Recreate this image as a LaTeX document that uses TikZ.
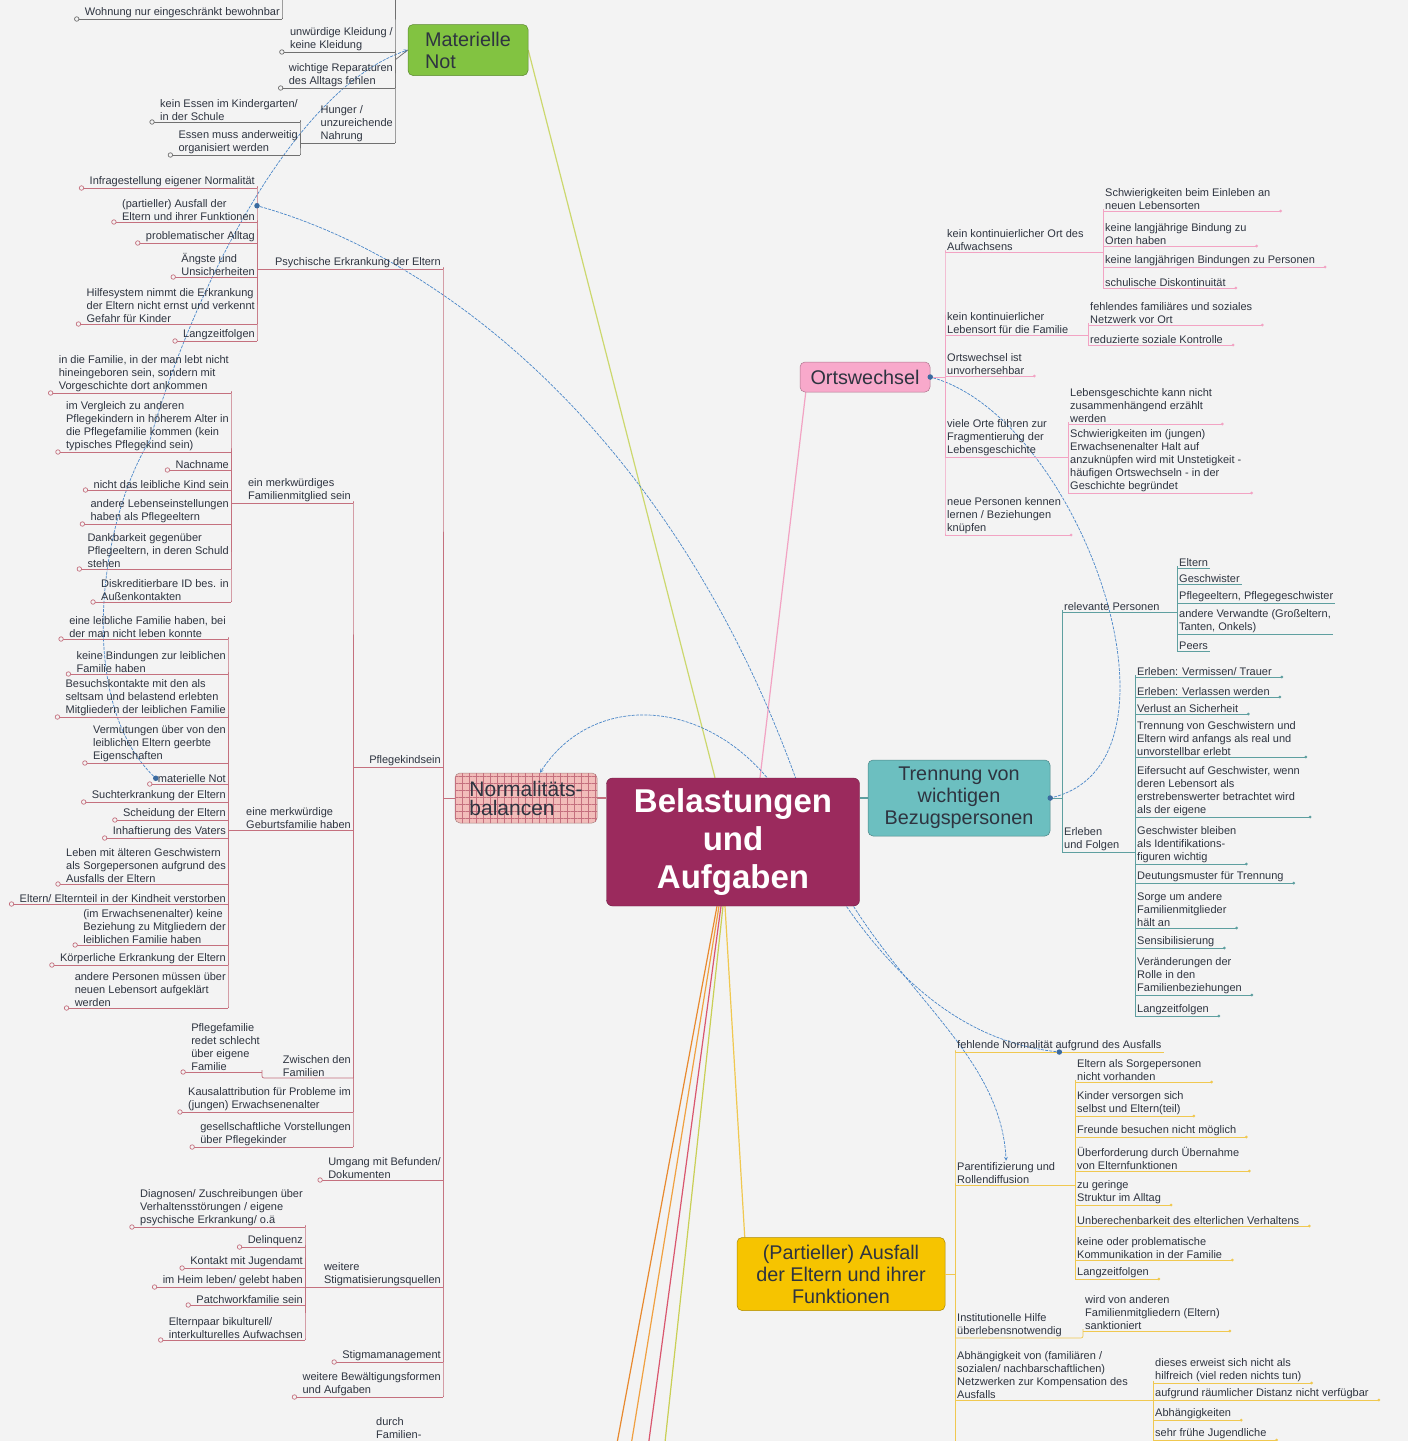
\documentclass[tikz,border=0pt]{standalone}
\usepackage{fontspec}
\setmainfont{Liberation Sans}
\usetikzlibrary{positioning,backgrounds,patterns.meta}

\definecolor{bgc}{HTML}{F3F3F3}
\definecolor{txt}{HTML}{2E3440}
\definecolor{cMain}{HTML}{9B2A5D}
\definecolor{cMat}{HTML}{82C341}
\definecolor{cOrt}{HTML}{F8A9CB}
\definecolor{cTr}{HTML}{6CBFC0}
\definecolor{cAus}{HTML}{F6C400}
\definecolor{cNorm}{HTML}{F2BDBA}
\definecolor{cMatL}{HTML}{CCD86E}
\definecolor{lnN}{HTML}{C4707E}
\definecolor{lnM}{HTML}{707070}
\definecolor{lnO}{HTML}{F2A3C3}
\definecolor{lnT}{HTML}{5E9FA0}
\definecolor{lnA}{HTML}{F0C850}
\definecolor{relc}{HTML}{4A86C8}

\tikzset{
  lbl/.style={font=\fontsize{11}{12.8}\selectfont, text=txt, align=left, inner xsep=2pt, inner ysep=1.5pt},
  ll/.style={lbl, anchor=south east},
  rl/.style={lbl, anchor=south west},
  br/.style={line width=0.7pt, rounded corners=2pt},
  mk/.style={circle, draw, fill=bgc, inner sep=0pt, minimum size=4.5pt},
  mkr/.style={circle, fill, inner sep=0pt, minimum size=3pt},
  topic/.style={rounded corners=5pt, fill=#1, draw=#1!70!black, line width=0.5pt, text=txt, font=\fontsize{19.8}{22}\selectfont},
  rel/.style={relc, line width=0.7pt, dash pattern=on 3pt off 1.2pt},
  reldot/.style={circle, fill=relc!80!black, inner sep=0pt, minimum size=5.5pt},
  mainln/.style={line width=1.2pt}
}

\begin{document}
\begin{tikzpicture}[x=1pt, y=-1pt, >=stealth]
\useasboundingbox (0,0) rectangle (1408,1441);

% main topics
\node[rounded corners=6pt, fill=cMain, draw=cMain!70!black, text=white, font=\bfseries\fontsize{33}{38}\selectfont, align=center, minimum width=253, minimum height=128] (bela) at (733,842) {Belastungen\\und\\Aufgaben};
\node[topic=cMat, minimum width=120, minimum height=51, align=left] (mat) at (468,50) {Materielle\\Not};
\node[topic=cOrt, minimum width=130, minimum height=30, inner ysep=2pt] (ort) at (865,377) {Ortswechsel};
\node[topic=cTr, minimum width=182, minimum height=76, align=center] (tr) at (959,798) {Trennung von\\wichtigen\\Bezugspersonen};
\node[topic=cAus, minimum width=208, minimum height=73, align=center, inner ysep=2pt] (aus) at (841,1274) {(Partieller) Ausfall\\der Eltern und ihrer\\Funktionen};
\node[topic=cNorm, minimum width=142, minimum height=50, align=left, font=\fontsize{21}{19}\selectfont, postaction={pattern={Hatch[angle=0,distance=7pt,line width=0.5pt]}, pattern color=lnN}] (norm) at (526,798) {Normalitäts-\\balancen};

% Materielle Not
\coordinate (matB) at (395,60);
\coordinate (matTop) at (395,-20);
\node[ll] (mat1) at (395,52) {unwürdige Kleidung /\\keine Kleidung};
\node[ll] (mat2) at (395,88) {wichtige Reparaturen\\des Alltags fehlen};
\node[ll] (hung) at (395,143) {Hunger /\\unzureichende\\Nahrung};
\coordinate (hungB) at (300,143);
\node[ll] (hung1) at (300,122) {kein Essen im Kindergarten/\\in der Schule};
\node[ll] (hung2) at (300,155) {Essen muss anderweitig\\organisiert werden};
\coordinate (wohnTop) at (282,-20);
\node[ll] (wohn) at (282,19) {Wohnung nur eingeschränkt bewohnbar};

\draw[br, lnM] (mat.west) -- (matB);
\draw[br, lnM] (matTop) -- (matB) |- (hung.south east);
\foreach \n in {mat1,mat2} \draw[br, lnM] (matB) |- (\n.south east);
\draw[br, lnM] (hung.south east) -- (hungB);
\foreach \n in {hung1,hung2} \draw[br, lnM] (hungB) |- (\n.south east);
\draw[br, lnM] (wohnTop) |- (wohn.south east);
\foreach \n in {mat1,mat2,hung1,hung2,wohn}
  \draw[br, lnM] (\n.south east) -- ([xshift=-6]\n.south west) node[mk] {};

% Normalitaetsbalancen
\coordinate (normB) at (443,798);
\node[ll] (psych) at (443,269) {Psychische Erkrankung der Eltern};
\coordinate (psychB) at (257,269);
\node[ll] (ps1) at (257,188) {Infragestellung eigener Normalität};
\node[ll] (ps2) at (257,222) {(partieller) Ausfall der\\Eltern und ihrer Funktionen};
\node[ll] (ps3) at (257,243) {problematischer Alltag};
\node[ll] (ps4) at (257,277) {Ängste und\\Unsicherheiten};
\node[ll] (ps5) at (257,324) {Hilfesystem nimmt die Erkrankung\\der Eltern nicht ernst und verkennt\\Gefahr für Kinder};
\node[ll] (ps6) at (257,341) {Langzeitfolgen};

\node[ll] (pfk) at (443,767) {Pflegekindsein};
\coordinate (pfkB) at (353,767);
\node[ll] (merk) at (353,503) {ein merkwürdiges\\Familienmitglied sein};
\coordinate (merkB) at (231,503);
\node[ll] (me1) at (231,393) {in die Familie, in der man lebt nicht\\hineingeboren sein, sondern mit\\Vorgeschichte dort ankommen};
\node[ll] (me2) at (231,452) {im Vergleich zu anderen\\Pflegekindern in höherem Alter in\\die Pflegefamilie kommen (kein\\typisches Pflegekind sein)};
\node[ll] (me3) at (231,470) {Nachname};
\node[ll] (me4) at (231,490) {nicht das leibliche Kind sein};
\node[ll] (me5) at (231,524) {andere Lebenseinstellungen\\haben als Pflegeeltern};
\node[ll] (me6) at (231,569) {Dankbarkeit gegenüber\\Pflegeeltern, in deren Schuld\\stehen};
\node[ll] (me7) at (231,602) {Diskreditierbare ID bes. in\\Außenkontakten};

\node[ll] (geb) at (353,830) {eine merkwürdige\\Geburtsfamilie haben};
\coordinate (gebB) at (228,830);
\node[ll] (ge1) at (228,639) {eine leibliche Familie haben, bei\\der man nicht leben konnte};
\node[ll] (ge2) at (228,674) {keine Bindungen zur leiblichen\\Familie haben};
\node[ll] (ge3) at (228,717) {Besuchskontakte mit den als\\seltsam und belastend erlebten\\Mitgliedern der leiblichen Familie};
\node[ll] (ge4) at (228,763) {Vermutungen über von den\\leiblichen Eltern geerbte\\Eigenschaften};
\node[ll] (ge5) at (228,784) {materielle Not};
\node[ll] (ge6) at (228,802) {Suchterkrankung der Eltern};
\node[ll] (ge7) at (228,820) {Scheidung der Eltern};
\node[ll] (ge8) at (228,838) {Inhaftierung des Vaters};
\node[ll] (ge9) at (228,884) {Leben mit älteren Geschwistern\\als Sorgepersonen aufgrund des\\Ausfalls der Eltern};
\node[ll] (ge10) at (228,904) {Eltern/ Elternteil in der Kindheit verstorben};
\node[ll] (ge11) at (228,945) {(im Erwachsenenalter) keine\\Beziehung zu Mitgliedern der\\leiblichen Familie haben};
\node[ll] (ge12) at (228,965) {Körperliche Erkrankung der Eltern};
\node[ll] (ge13) at (228,1008) {andere Personen müssen über\\neuen Lebensort aufgeklärt\\werden};

\node[ll] (zw) at (353,1078) {Zwischen den\\Familien};
\coordinate (zwB) at (262,1078);
\node[ll] (zw1) at (262,1072) {Pflegefamilie\\redet schlecht\\über eigene\\Familie};
\node[ll] (kaus) at (353,1112) {Kausalattribution für Probleme im\\(jungen) Erwachsenenalter};
\node[ll] (ges) at (353,1147) {gesellschaftliche Vorstellungen\\über Pflegekinder};

\node[ll] (umg) at (443,1180) {Umgang mit Befunden/\\Dokumenten};
\node[ll] (wsq) at (443,1287) {weitere\\Stigmatisierungsquellen};
\coordinate (wsqB) at (305,1287);
\node[ll] (ws1) at (305,1227) {Diagnosen/ Zuschreibungen über\\Verhaltensstörungen / eigene\\psychische Erkrankung/ o.ä};
\node[ll] (ws2) at (305,1247) {Delinquenz};
\node[ll] (ws3) at (305,1268) {Kontakt mit Jugendamt};
\node[ll] (ws4) at (305,1287) {im Heim leben/ gelebt haben};
\node[ll] (ws5) at (305,1305) {Patchworkfamilie sein};
\node[ll] (ws6) at (305,1340) {Elternpaar bikulturell/\\interkulturelles Aufwachsen};
\node[ll] (stm) at (443,1362) {Stigmamanagement};
\node[ll] (wbf) at (443,1397) {weitere Bewältigungsformen\\und Aufgaben};
\node[lbl, anchor=north west] (durch) at (374,1416) {durch\\Familien-};

\draw[br, lnN] (norm.west) -- (normB);
\foreach \n in {psych,pfk,umg,wsq,stm,wbf} \draw[br, lnN] (normB) |- (\n.south east);
\draw[br, lnN] (psych.south east) -- (psychB);
\foreach \i in {1,...,6} \draw[br, lnN] (psychB) |- (ps\i.south east);
\draw[br, lnN] (pfk.south east) -- (pfkB);
\foreach \n in {merk,geb,zw,kaus,ges} \draw[br, lnN] (pfkB) |- (\n.south east);
\draw[br, lnN] (merk.south east) -- (merkB);
\foreach \i in {1,...,7} \draw[br, lnN] (merkB) |- (me\i.south east);
\draw[br, lnN] (geb.south east) -- (gebB);
\foreach \i in {1,...,13} \draw[br, lnN] (gebB) |- (ge\i.south east);
\draw[br, lnN] (zw.south east) -- (zwB) |- (zw1.south east);
\draw[br, lnN] (wsq.south east) -- (wsqB);
\foreach \i in {1,...,6} \draw[br, lnN] (wsqB) |- (ws\i.south east);
\foreach \n in {ps1,ps2,ps3,ps4,ps5,ps6,me1,me2,me3,me4,me5,me6,me7,ge1,ge2,ge3,ge4,ge5,ge6,ge7,ge8,ge9,ge10,ge11,ge12,ge13,zw1,kaus,ges,umg,ws1,ws2,ws3,ws4,ws5,ws6,stm,wbf}
  \draw[br, lnN] (\n.south east) -- ([xshift=-6]\n.south west) node[mk] {};

% Ortswechsel
\coordinate (ortB) at (945,377);
\node[rl] (oA) at (945,252) {kein kontinuierlicher Ort des\\Aufwachsens};
\coordinate (oAB) at (1103,252);
\node[rl] (oA1) at (1103,211) {Schwierigkeiten beim Einleben an\\neuen Lebensorten};
\node[rl] (oA2) at (1103,246) {keine langjährige Bindung zu\\Orten haben};
\node[rl] (oA3) at (1103,267) {keine langjährigen Bindungen zu Personen};
\node[rl] (oA4) at (1103,288) {schulische Diskontinuität};
\node[rl] (oB) at (945,335) {kein kontinuierlicher\\Lebensort für die Familie};
\coordinate (oBB) at (1088,335);
\node[rl] (oB1) at (1088,325) {fehlendes familiäres und soziales\\Netzwerk vor Ort};
\node[rl] (oB2) at (1088,345) {reduzierte soziale Kontrolle};
\node[rl] (oC) at (945,376) {Ortswechsel ist\\unvorhersehbar};
\node[rl] (oD) at (945,457) {viele Orte führen zur\\Fragmentierung der\\Lebensgeschichte};
\coordinate (oDB) at (1068,457);
\node[rl] (oD1) at (1068,424) {Lebensgeschichte kann nicht\\zusammenhängend erzählt\\werden};
\node[rl] (oD2) at (1068,493) {Schwierigkeiten im (jungen)\\Erwachsenenalter Halt auf\\anzuknüpfen wird mit Unstetigkeit -\\häufigen Ortswechseln - in der\\Geschichte begründet};
\node[rl] (oE) at (945,535) {neue Personen kennen\\lernen / Beziehungen\\knüpfen};

\draw[br, lnO] (ort.east) -- (ortB);
\foreach \n in {oA,oB,oC,oD,oE} \draw[br, lnO] (ortB) |- (\n.south west);
\draw[br, lnO] (oA.south west) -- (oAB);
\foreach \i in {1,...,4} \draw[br, lnO] (oAB) |- (oA\i.south west);
\draw[br, lnO] (oB.south west) -- (oBB);
\foreach \i in {1,2} \draw[br, lnO] (oBB) |- (oB\i.south west);
\draw[br, lnO] (oD.south west) -- (oDB);
\foreach \i in {1,2} \draw[br, lnO] (oDB) |- (oD\i.south west);
\foreach \n in {oA1,oA2,oA3,oA4,oB1,oB2,oC,oD1,oD2,oE}
  \draw[br, lnO] (\n.south west) -- ([xshift=8]\n.south east) node[mkr] {};

% Trennung
\coordinate (trB) at (1062,798);
\node[rl] (tA) at (1062,612) {relevante Personen};
\coordinate (tAB) at (1177,612);
\node[rl] (tA1) at (1177,568) {Eltern};
\node[rl] (tA2) at (1177,584) {Geschwister};
\node[rl] (tA3) at (1177,603) {Pflegeeltern, Pflegegeschwister};
\node[rl] (tA4) at (1177,634) {andere Verwandte (Großeltern,\\Tanten, Onkels)};
\node[rl] (tA5) at (1177,651) {Peers};
\node[rl] (tB) at (1062,852) {Erleben\\und Folgen};
\coordinate (tBB) at (1135,852);
\node[rl] (tB1) at (1135,677) {Erleben: Vermissen/ Trauer};
\node[rl] (tB2) at (1135,697) {Erleben: Verlassen werden};
\node[rl] (tB3) at (1135,714) {Verlust an Sicherheit};
\node[rl] (tB4) at (1135,757) {Trennung von Geschwistern und\\Eltern wird anfangs als real und\\unvorstellbar erlebt};
\node[rl] (tB5) at (1135,817) {Eifersucht auf Geschwister, wenn\\deren Lebensort als\\erstrebenswerter betrachtet wird\\als der eigene};
\node[rl] (tB6) at (1135,864) {Geschwister bleiben\\als Identifikations-\\figuren wichtig};
\node[rl] (tB7) at (1135,883) {Deutungsmuster für Trennung};
\node[rl] (tB8) at (1135,928) {Sorge um andere\\Familienmitglieder\\hält an};
\node[rl] (tB9) at (1135,948) {Sensibilisierung};
\node[rl] (tB10) at (1135,995) {Veränderungen der\\Rolle in den\\Familienbeziehungen};
\node[rl] (tB11) at (1135,1016) {Langzeitfolgen};

\draw[br, lnT] (tr.east) -- (trB);
\foreach \n in {tA,tB} \draw[br, lnT] (trB) |- (\n.south west);
\draw[br, lnT] (tA.south west) -- (tAB);
\foreach \i in {1,...,5} \draw[br, lnT] (tAB) |- (tA\i.south west);
\draw[br, lnT] (tB.south west) -- (tBB);
\foreach \i in {1,...,11} \draw[br, lnT] (tBB) |- (tB\i.south west);
\foreach \i in {1,...,5} \draw[br, lnT] (tA\i.south west) -- (tA\i.south east);
\foreach \i in {1,...,11} \draw[br, lnT] (tB\i.south west) -- ([xshift=8]tB\i.south east) node[mkr] {};

% Ausfall
\coordinate (ausB) at (955,1274);
\coordinate (ausBot) at (955,1470);
\node[rl] (aA) at (955,1052) {fehlende Normalität aufgrund des Ausfalls};
\node[rl] (aB) at (955,1185) {Parentifizierung und\\Rollendiffusion};
\coordinate (aBB) at (1075,1185);
\node[rl] (aB1) at (1075,1082) {Eltern als Sorgepersonen\\nicht vorhanden};
\node[rl] (aB2) at (1075,1116) {Kinder versorgen sich\\selbst und Eltern(teil)};
\node[rl] (aB3) at (1075,1137) {Freunde besuchen nicht möglich};
\node[rl] (aB4) at (1075,1171) {Überforderung durch Übernahme\\von Elternfunktionen};
\node[rl] (aB5) at (1075,1205) {zu geringe\\Struktur im Alltag};
\node[rl] (aB6) at (1075,1226) {Unberechenbarkeit des elterlichen Verhaltens};
\node[rl] (aB7) at (1075,1260) {keine oder problematische\\Kommunikation in der Familie};
\node[rl] (aB8) at (1075,1279) {Langzeitfolgen};
\node[rl] (aC) at (955,1338) {Institutionelle Hilfe\\überlebensnotwendig};
\coordinate (aCB) at (1083,1338);
\node[rl] (aC1) at (1083,1331) {wird von anderen\\Familienmitgliedern (Eltern)\\sanktioniert};
\node[rl] (aD) at (955,1400) {Abhängigkeit von (familiären /\\sozialen/ nachbarschaftlichen)\\Netzwerken zur Kompensation des\\Ausfalls};
\coordinate (aDB) at (1153,1400);
\node[rl] (aD1) at (1153,1383) {dieses erweist sich nicht als\\hilfreich (viel reden nichts tun)};
\node[rl] (aD2) at (1153,1400) {aufgrund räumlicher Distanz nicht verfügbar};
\node[rl] (aD3) at (1153,1420) {Abhängigkeiten};
\node[rl] (aD4) at (1153,1440) {sehr frühe Jugendliche};

\draw[br, lnA] (aus.east) -- (ausB);
\draw[br, lnA] (ausBot) -- (ausB) |- (aA.south west);
\foreach \n in {aB,aC,aD} \draw[br, lnA] (ausB) |- (\n.south west);
\draw[br, lnA] (aA.south west) -- (aA.south east);
\draw[br, lnA] (aB.south west) -- (aBB);
\foreach \i in {1,...,8} \draw[br, lnA] (aBB) |- (aB\i.south west);
\draw[br, lnA] (aC.south west) -- (aCB) |- (aC1.south west);
\draw[br, lnA] (aD.south west) -- (aDB);
\foreach \i in {1,...,4} \draw[br, lnA] (aDB) |- (aD\i.south west);
\foreach \n in {aB1,aB2,aB3,aB4,aB5,aB6,aB7,aB8,aC1,aD1,aD2,aD3,aD4}
  \draw[br, lnA] (\n.south west) -- ([xshift=8]\n.south east) node[mkr] {};

% relations
\node[reldot] (rdM) at (ge5.west) {};
\node[reldot] (rdA) at ([yshift=-8]ps2.north east) {};
\node[reldot] (rdF) at (aA.south) {};
\node[reldot] (rdO) at (ort.east) {};
\node[reldot] (rdT) at (tr.east) {};

\begin{scope}[on background layer]
  \fill[bgc] (0,0) rectangle (1408,1441);
  % branches from the centre
  \draw[mainln, cMatL] ([xshift=-18]bela.north) -- (mat.east);
  \draw[mainln, lnO] ([xshift=27]bela.north) -- ([xshift=6]ort.south west);
  \draw[mainln, lnN] (norm.east) -- (norm.east -| bela.west);
  \draw[mainln, lnT] (tr.west) -- (tr.west -| bela.east);
  \draw[mainln, lnA] ([xshift=-8]bela.south) -- ([xshift=8]aus.north west);
  \coordinate (b1) at (612,1470);
  \coordinate (b2) at (627,1470);
  \coordinate (b3) at (645,1470);
  \coordinate (b4) at (662,1470);
  \draw[mainln, draw={rgb,255:red,232;green,137;blue,46}] ([xshift=-16]bela.south) -- (b1);
  \draw[mainln, draw={rgb,255:red,240;green,160;blue,64}] ([xshift=-14]bela.south) -- (b2);
  \draw[mainln, draw={rgb,255:red,217;green,86;blue,110}] ([xshift=-12]bela.south) -- (b3);
  \draw[mainln, draw={rgb,255:red,201;green,207;blue,85}] ([xshift=-10]bela.south) -- (b4);
  % relationship lines
  \draw[rel, ->] (rdM) .. controls (75,700) and (100,520) .. (150,440) .. controls (190,300) and (290,90) .. (mat.west);
  \draw[rel, ->] (rdA) .. controls (450,260) and (690,450) .. (810,820) .. controls (870,980) and (1000,1040) .. (aB.north);
  \draw[rel, ->] (rdF) .. controls (950,1040) and (870,960) .. (800,830) .. controls (740,700) and (600,680) .. ([xshift=14]norm.north);
  \draw[rel] (rdO) .. controls (1080,420) and (1200,760) .. (rdT);
\end{scope}
\end{tikzpicture}
\end{document}
